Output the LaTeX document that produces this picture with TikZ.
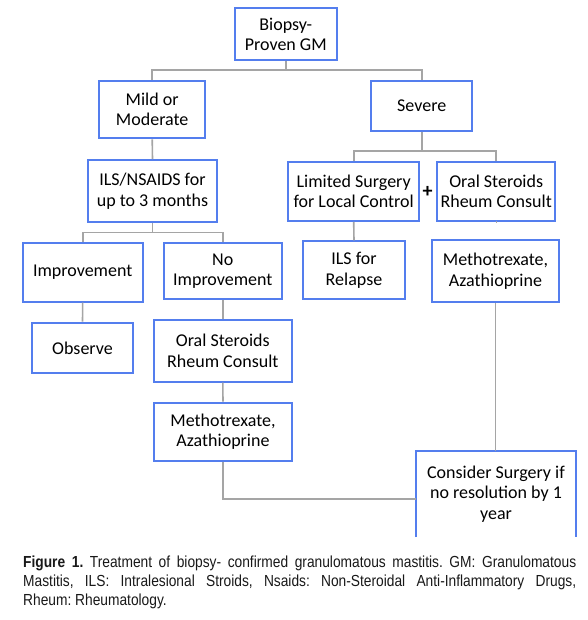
\documentclass[tikz,border=0pt]{standalone}
\usepackage{fontspec}
\newfontfamily\boxfamily{Carlito}
\newfontfamily\capfamily[FakeStretch=0.86]{Liberation Sans}
\definecolor{boxblue}{RGB}{84,126,238}
\definecolor{linkgray}{RGB}{165,165,165}
\begin{document}
\begin{tikzpicture}[x=1pt,y=-1pt,
  boxnode/.style={draw=boxblue, line width=2pt, inner sep=0pt, align=center,
    font=\boxfamily\fontsize{18}{20.5}\selectfont, fill=white},
  link/.style={draw=linkgray, line width=1.6pt},
  capnode/.style={inner sep=0pt, anchor=north west, text width=553pt, align=justify,
    font=\capfamily\fontsize{16}{19}\selectfont, text=black!90}]
\useasboundingbox (0,0) rectangle (587,620);
\fill[white] (0,0) rectangle (587,620);

% connectors
\coordinate (busA) at (0,70.3);
\coordinate (busB) at (0,151);
\coordinate (busC) at (0,232.3);

\node[boxnode, minimum width=101.7pt, minimum height=51.7pt] (bio) at (285.8,34.2) {Biopsy-\\Proven GM};
\node[boxnode, minimum width=105.7pt, minimum height=57.6pt] (mild) at (152.2,109.5) {Mild or\\Moderate};
\node[boxnode, minimum width=101.3pt, minimum height=50.3pt] (sev) at (421.7,105.9) {Severe};
\node[boxnode, minimum width=128.4pt, minimum height=62.3pt] (ils) at (152.5,191.2) {ILS/NSAIDS for\\up to 3 months};
\node[boxnode, minimum width=130.7pt, minimum height=59.3pt] (lim) at (353.7,191.3) {Limited Surgery\\for Local Control};
\node[boxnode, minimum width=117.7pt, minimum height=59.3pt] (ors) at (496.2,191.3) {Oral Steroids\\Rheum Consult};
\node[boxnode, minimum width=120pt, minimum height=58.4pt] (imp) at (82.7,272.5) {Improvement};
\node[boxnode, minimum width=117.7pt, minimum height=55.7pt] (noi) at (222.8,271.2) {No\\Improvement};
\node[boxnode, minimum width=101.4pt, minimum height=57.7pt] (rel) at (354,270.2) {ILS for\\Relapse};
\node[boxnode, minimum width=127.6pt, minimum height=62.3pt] (mtr) at (495.5,271.2) {Methotrexate,\\Azathioprine};
\node[boxnode, minimum width=101.6pt, minimum height=50.6pt] (obs) at (82.5,348) {Observe};
\node[boxnode, minimum width=137.7pt, minimum height=61.7pt] (orl) at (222.8,350.8) {Oral Steroids\\Rheum Consult};
\node[boxnode, minimum width=137.4pt, minimum height=58pt] (mtl) at (223,431.7) {Methotrexate,\\Azathioprine};
\node[boxnode, draw=none, minimum width=158.7pt, minimum height=84.3pt] (con) at (496,493.9) {Consider Surgery if\\no resolution by 1\\year};
\draw[boxblue, line width=2pt] (con.south west) -- (con.north west) -- (con.north east) -- (con.south east);

\node[inner sep=0pt, font=\boxfamily\bfseries\fontsize{20}{20}\selectfont] (plus) at (427.7,191.7) {+};

% tree links
\draw[link] (bio.south) -- (bio.south |- busA) -| (mild.north);
\draw[link] (bio.south |- busA) -| (sev.north);
\draw[link] (mild.south) -- (ils.north);
\draw[link] (sev.south) -- (sev.south |- busB) -| (lim.north);
\draw[link] (sev.south |- busB) -| (ors.north);
\draw[link] (ils.south) -- (ils.south |- busC) -| (imp.north);
\draw[link] (ils.south |- busC) -| (noi.north);
\draw[link] (imp.south) -- (obs.north);
\draw[link] (noi.south) -- (orl.north);
\draw[link] (orl.south) -- (mtl.north);
\draw[link] (lim.south) -- (rel.north);
\draw[link] (ors.south) -- (ors.south -| mtr.north);
\draw[link] (mtr.south) -- (mtr.south |- con.north);
\draw[link] (mtl.south) |- ([yshift=-4.8pt]con.west);

\node[capnode] (cap) at (23,556) {\frenchspacing\tolerance=9999\hyphenpenalty=10000\textbf{Figure 1.} Treatment of biopsy- confirmed granulomatous mastitis. GM: Granulomatous\linebreak Mastitis, ILS: Intralesional Stroids, Nsaids: Non-Steroidal Anti-Inflammatory Drugs,\linebreak Rheum: Rheumatology.};
\end{tikzpicture}
\end{document}
